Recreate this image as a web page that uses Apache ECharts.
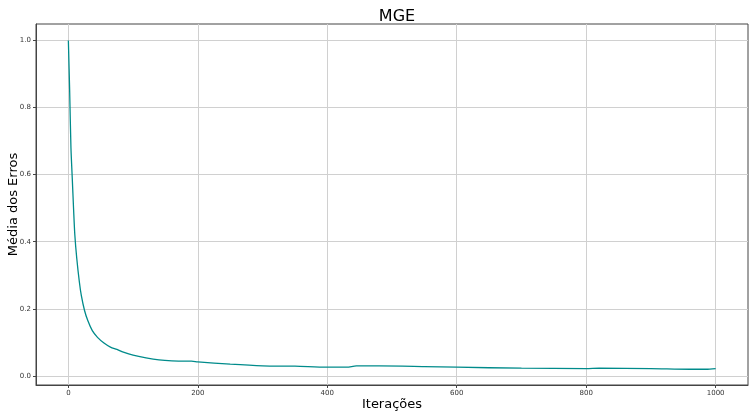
<!DOCTYPE html>
<html><head><meta charset="utf-8">
<script src="https://cdn.jsdelivr.net/npm/echarts@6/dist/echarts.min.js"></script>
<style>html,body{margin:0;padding:0;background:#fff}#c{width:749px;height:415px}</style>
</head><body><div id="c"></div>
<script>
const iterations = [0,2,4,6,8,10,13,17,20,25,30,37,45,55,65,75,85,100,120,140,160,180,190,200,250,300,350,400,430,445,480,550,600,700,800,820,900,960,985,1000];
const errors = [1.0,0.85,0.68,0.59,0.50,0.42,0.35,0.28,0.24,0.195,0.165,0.135,0.115,0.098,0.086,0.079,0.071,0.062,0.054,0.048,0.045,0.044,0.044,0.042,0.035,0.030,0.029,0.026,0.026,0.030,0.030,0.028,0.026,0.023,0.022,0.023,0.022,0.020,0.020,0.022];
const xTicks = [0,200,400,600,800,1000];
const yTicks = [0.0,0.2,0.4,0.6,0.8,1.0];

const font = 'DejaVu Sans';
const chart = echarts.init(document.getElementById('c'));
chart.setOption({
  animation: false,
  title: {text: 'MGE', left: 392, top: 4, textAlign: 'center',
    textStyle: {fontFamily: font, fontSize: 16, fontWeight: 'normal', color: '#000'}},
  grid: {left: 36, right: 1, top: 24, bottom: 30, show: true, borderColor: '#444', borderWidth: 1,
    containLabel: false, outerBoundsMode: 'none'},
  xAxis: {type: 'value', min: -50, max: 1050,
    name: 'Iterações', nameLocation: 'middle', nameGap: 13, nameMoveOverlap: false,
    nameTextStyle: {fontFamily: font, fontSize: 13, color: '#000'},
    axisLine: {show: true, onZero: false, lineStyle: {color: '#444'}},
    axisTick: {show: true, length: 3, customValues: xTicks, lineStyle: {color: '#444'}},
    axisLabel: {customValues: xTicks, fontFamily: font, fontSize: 7, color: '#333', margin: 5,
      formatter: v => String(v)},
    splitLine: {show: true, customValues: xTicks, lineStyle: {color: '#d0d0d0'}}},
  yAxis: {type: 'value', min: -0.027, max: 1.049,
    name: 'Média dos Erros', nameLocation: 'middle', nameGap: 16, nameMoveOverlap: false,
    nameTextStyle: {fontFamily: font, fontSize: 13, color: '#000'},
    axisLine: {show: true, onZero: false, lineStyle: {color: '#444'}},
    axisTick: {show: true, length: 3, customValues: yTicks, lineStyle: {color: '#444'}},
    axisLabel: {customValues: yTicks, fontFamily: font, fontSize: 7, color: '#333', margin: 5,
      formatter: v => v.toFixed(1)},
    splitLine: {show: true, customValues: yTicks, lineStyle: {color: '#d0d0d0'}}},
  series: [{type: 'line', data: iterations.map((x, i) => [x, errors[i]]),
    smooth: 0.3, showSymbol: false, lineStyle: {color: '#008b8b', width: 1.3}, itemStyle: {color: '#008b8b'}}]
});
</script></body></html>
